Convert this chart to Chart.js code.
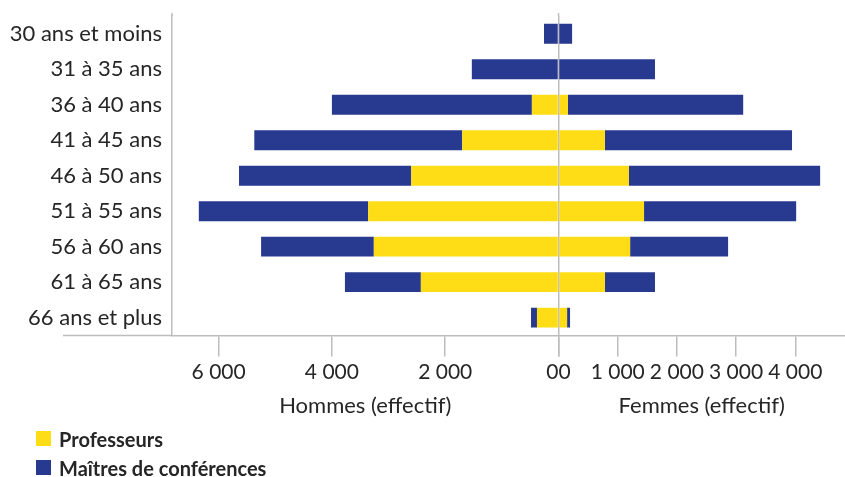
<!DOCTYPE html>
<html lang="fr">
<head>
<meta charset="utf-8">
<script src="https://cdn.jsdelivr.net/npm/chart.js@4.4.0/dist/chart.umd.min.js"></script>
<style>
	body { margin: 0; background: #fff; }
	#wrap { position: relative; width: 845px; height: 477px; }
	#legend { position: absolute; left: 36px; top: 424px; font-family: Lato, sans-serif; font-weight: bold; font-size: 20px; color: #262626; }
	#legend div { display: flex; align-items: center; height: 29px; }
	#legend span { display: inline-block; width: 15px; height: 15px; margin-right: 8px; }
</style>
</head>
<body>
<div id="wrap">
	<canvas id="pyramide" width="845" height="477"></canvas>
	<div id="legend">
		<div><span style="background:#fedd17"></span>Professeurs</div>
		<div><span style="background:#283990"></span>Maîtres de conférences</div>
	</div>
</div>
<script>
const ages = ['30 ans et moins', '31 à 35 ans', '36 à 40 ans', '41 à 45 ans', '46 à 50 ans', '51 à 55 ans', '56 à 60 ans', '61 à 65 ans', '66 ans et plus']
// hommes (echelle gauche)
const hommesProf = [0, 0, 470, 1700, 2600, 3360, 3260, 2430, 380]
const hommesMcf = [256, 1530, 3530, 3670, 3040, 2990, 1990, 1340, 105]
// femmes (echelle droite)
const femmesProf = [0, 0, 160, 785, 1190, 1445, 1210, 785, 145]
const femmesMcf = [230, 1630, 2960, 3160, 3230, 2570, 1655, 845, 50]
const ticksHommes = [0, 2000, 4000, 6000]
const ticksFemmes = [0, 1000, 2000, 3000, 4000]

const MAX_H = 6823
const MAX_F = 4840
const JAUNE = '#fedd17'
const BLEU = '#283990'
const GRIS = '#bdbdbd'
const TEXTE = '#262626'

const fmt = v => (v === 0 ? '0' : v / 1000 + ' 000')

const axeX = (max, ticks, title, weight) => ({
	type: 'linear',
	position: 'bottom',
	stack: 'pyramide',
	stackWeight: weight,
	stacked: true,
	min: 0,
	max: max,
	afterBuildTicks: scale => {
		scale.ticks = ticks.concat([max]).map(v => ({ value: v }))
	},
	// pas de marge laterale : les deux demi-axes se touchent au centre
	afterFit: scale => {
		scale.paddingLeft = 0
		scale.paddingRight = 0
	},
	ticks: {
		align: 'inner',
		padding: 3.5,
		autoSkip: false,
		maxRotation: 0,
		minRotation: 0,
		color: TEXTE,
		font: { family: 'Lato', size: 21 },
		callback: v => (v === max ? '' : fmt(v)),
	},
	grid: {
		drawOnChartArea: false,
		tickLength: 21,
		lineWidth: 1.5,
		tickColor: ctx => (ctx.tick && ctx.tick.value === max ? 'transparent' : GRIS),
	},
	border: { color: GRIS, width: 1.5 },
	title: {
		display: true,
		text: title,
		color: TEXTE,
		font: { family: 'Lato', size: 22 },
		padding: { top: 4, bottom: 58 },
	},
})

const scaleH = axeX(MAX_H, ticksHommes, 'Hommes (effectif)', 386.5)
scaleH.reverse = true
scaleH.z = 1
scaleH.grid.drawOnChartArea = true
scaleH.grid.color = ctx => (ctx.tick && ctx.tick.value === 0 ? GRIS : 'transparent')
const scaleF = axeX(MAX_F, ticksFemmes, 'Femmes (effectif)', 286.5)

// axe horizontal prolonge a gauche, traits verticaux prolonges en haut
const prolongeAxe = {
	id: 'prolongeAxe',
	afterDraw(chart) {
		const { ctx, chartArea } = chart
		const centre = chart.scales.xH.getPixelForValue(0)
		ctx.save()
		ctx.strokeStyle = GRIS
		ctx.lineWidth = 1.5
		ctx.beginPath()
		ctx.moveTo(63, chartArea.bottom)
		ctx.lineTo(chartArea.left, chartArea.bottom)
		ctx.moveTo(chartArea.left, 13)
		ctx.lineTo(chartArea.left, chartArea.top)
		ctx.moveTo(centre, 13)
		ctx.lineTo(centre, chartArea.top)
		ctx.stroke()
		ctx.restore()
	},
}

const ctx = document.getElementById('pyramide').getContext('2d')
const chart = new Chart(ctx, {
	type: 'bar',
	data: {
		labels: ages,
		datasets: [
			{ label: 'Professeurs', data: hommesProf, xAxisID: 'xH', backgroundColor: JAUNE, stack: 'p' },
			{ label: 'Maîtres de conférences', data: hommesMcf, xAxisID: 'xH', backgroundColor: BLEU, stack: 'p' },
			{ label: 'Professeurs', data: femmesProf, xAxisID: 'xF', backgroundColor: JAUNE, stack: 'p' },
			{ label: 'Maîtres de conférences', data: femmesMcf, xAxisID: 'xF', backgroundColor: BLEU, stack: 'p' },
		],
	},
	options: {
		indexAxis: 'y',
		responsive: false,
		animation: false,
		devicePixelRatio: 1,
		categoryPercentage: 1,
		barPercentage: 0.56,
		layout: { padding: { top: 16, right: 0, left: 0, bottom: 0 } },
		plugins: {
			legend: { display: false },
			tooltip: { enabled: false },
		},
		scales: {
			xH: scaleH,
			xF: scaleF,
			y: {
				stacked: true,
				afterFit: scale => {
					scale.width = 172
					scale.paddingTop = 0
					scale.paddingBottom = 0
				},
				grid: { display: false, drawTicks: false },
				border: { color: GRIS, width: 1.5 },
				ticks: {
					padding: 10,
					color: TEXTE,
					font: { family: 'Lato', size: 22 },
				},
			},
		},
	},
	plugins: [prolongeAxe],
})
</script>
</body>
</html>
